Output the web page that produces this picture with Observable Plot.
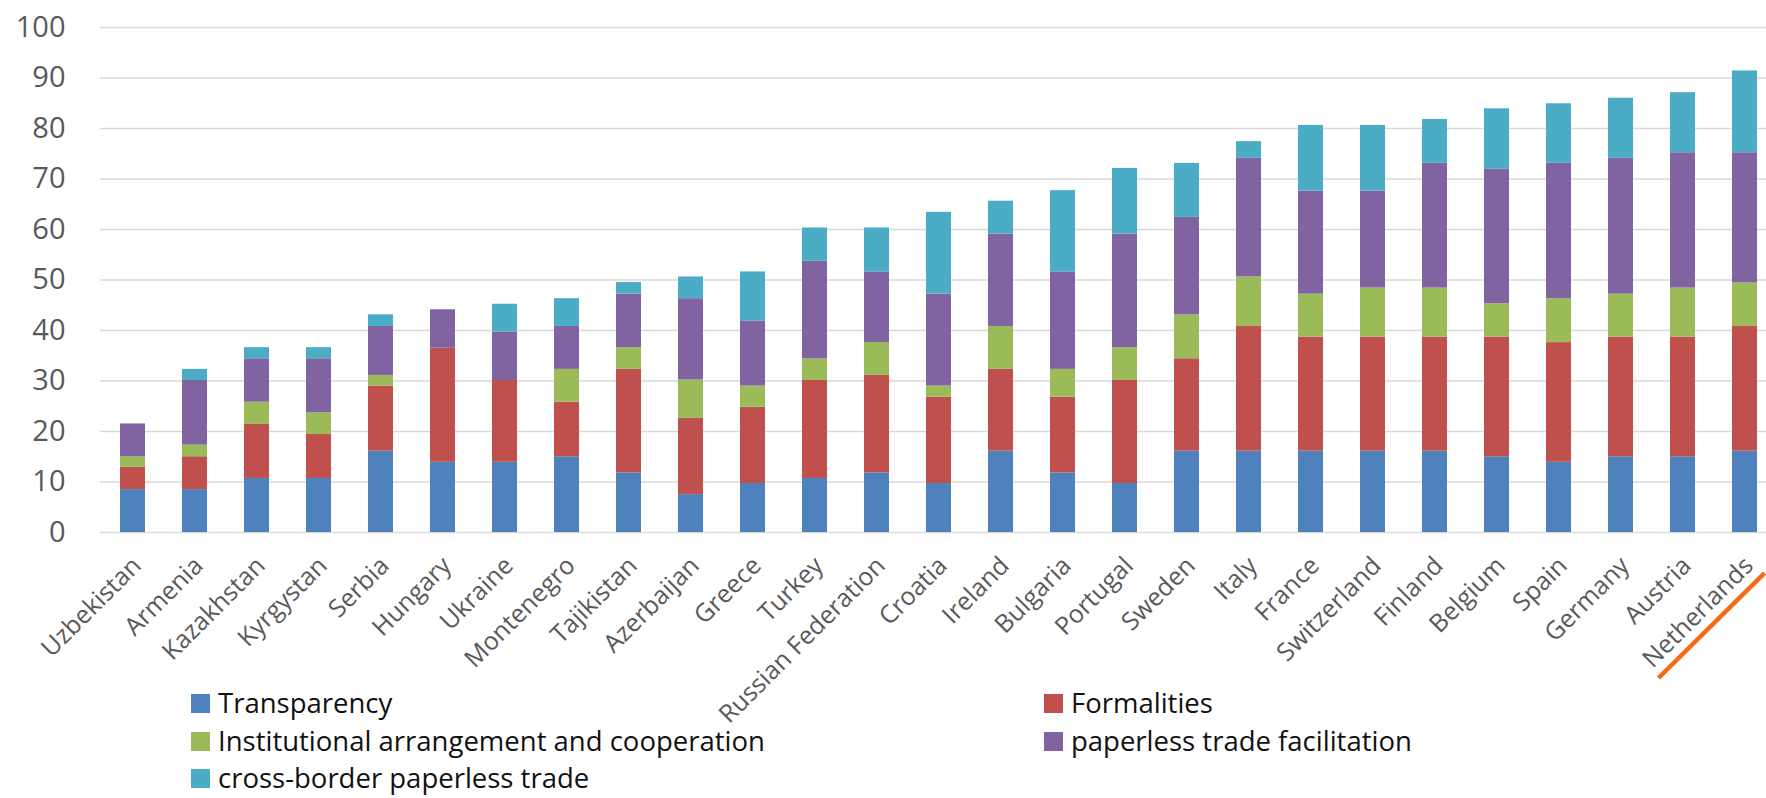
<!DOCTYPE html>
<html>
<head>
<meta charset="utf-8">
<script src="https://cdn.jsdelivr.net/npm/d3@7"></script>
<script src="https://cdn.jsdelivr.net/npm/@observablehq/plot@0.6"></script>
<style>
  html, body { margin: 0; padding: 0; background: #fff; }
  #wrap { position: relative; width: 1766px; height: 798px; overflow: hidden; font-family: "Open Sans", sans-serif; }
  .leg { position: absolute; display: flex; align-items: center; font-size: 27.5px; color: #111; white-space: nowrap; line-height: 1; }
  .leg .sw { width: 19px; height: 19px; margin-right: 8px; flex: none; }
</style>
</head>
<body>
<div id="wrap"></div>
<script>
const countries = ["Uzbekistan","Armenia","Kazakhstan","Kyrgystan","Serbia","Hungary","Ukraine","Montenegro","Tajikistan","Azerbaijan","Greece","Turkey","Russian Federation","Croatia","Ireland","Bulgaria","Portugal","Sweden","Italy","France","Switzerland","Finland","Belgium","Spain","Germany","Austria","Netherlands"];
const seriesNames = ["Transparency","Formalities","Institutional arrangement and cooperation","paperless trade facilitation","cross-border paperless trade"];
const seriesColors = ["#4F81BD","#C0504D","#9BBB59","#8064A2","#4BACC6"];

const transparency = [8.5,8.5,10.7,10.7,16.1,13.9,13.9,15.0,11.8,7.5,9.7,10.7,11.8,9.7,16.1,11.8,9.7,16.1,16.1,16.1,16.1,16.1,15.0,13.9,15.0,15.0,16.1];
const formalities  = [4.4,6.5,10.7,8.7,12.9,22.6,16.2,10.8,20.5,15.1,15.1,19.4,19.3,17.1,16.2,15.0,20.4,18.3,24.7,22.6,22.6,22.6,23.7,23.7,23.7,23.7,24.7];
const institutional= [2.1,2.3,4.4,4.3,2.1,0,0,6.5,4.3,7.6,4.2,4.3,6.5,2.2,8.5,5.5,6.5,8.7,9.8,8.5,9.7,9.7,6.6,8.7,8.5,9.7,8.6];
const paperless    = [6.5,12.8,8.6,10.7,9.7,7.6,9.6,8.5,10.6,16.1,12.9,19.3,14.0,18.2,18.3,19.3,22.5,19.3,23.5,20.4,19.2,24.7,26.7,26.8,26.9,26.8,25.8];
const crossBorder  = [0,2.2,2.2,2.2,2.3,0,5.5,5.5,2.3,4.3,9.7,6.6,8.7,16.2,6.5,16.1,13.0,10.7,3.3,13.0,13.0,8.7,11.9,11.8,11.9,11.9,16.2];
const yTicks = [0,10,20,30,40,50,60,70,80,90,100];

const seriesValues = [transparency, formalities, institutional, paperless, crossBorder];
const rows = [];
countries.forEach((c, i) => {
  seriesNames.forEach((s, j) => rows.push({country: c, series: s, value: seriesValues[j][i]}));
});

const W = 1766, H = 798;
const plot = Plot.plot({
  width: W,
  height: H,
  marginTop: 27,
  marginBottom: 266,
  marginLeft: 100,
  marginRight: 0,
  style: {fontFamily: "Open Sans, sans-serif", background: "#fff"},
  x: {domain: countries, range: [100, 1776], paddingInner: 0.6, paddingOuter: 0.3, label: null},
  y: {domain: [0, 100], label: null},
  color: {domain: seriesNames, range: seriesColors},
  marks: [
    Plot.gridY(yTicks, {stroke: "#d9d9d9", strokeOpacity: 1, strokeWidth: 1.5}),
    Plot.barY(rows, {x: "country", y: "value", fill: "series", order: null}),
    Plot.axisY(yTicks, {tickSize: 0, tickPadding: 35, fontSize: 29, fill: "#595959", label: null}),
    Plot.axisX({tickSize: 0, tickRotate: -45, tickPadding: 29, dx: 4, fontSize: 25, fill: "#595959", label: null})
  ]
});

const wrap = document.getElementById("wrap");
wrap.appendChild(plot);

// orange highlight line under the last country label
const xs = plot.scale("x"), ys = plot.scale("y");
const cx = xs.apply("Netherlands") + xs.bandwidth / 2;
const y0 = ys.apply(0);
const ns = "http://www.w3.org/2000/svg";
const ln = document.createElementNS(ns, "line");
ln.setAttribute("x1", cx - 86); ln.setAttribute("y1", y0 + 146);
ln.setAttribute("x2", cx + 20); ln.setAttribute("y2", y0 + 41);
ln.setAttribute("stroke", "#F56A12"); ln.setAttribute("stroke-width", 4.5);
plot.appendChild(ln);

// legend
const legPos = [[191, 703], [1044, 703], [191, 741], [1044, 741], [191, 778]];
seriesNames.forEach((s, i) => {
  const d = document.createElement("div");
  d.className = "leg";
  d.style.left = legPos[i][0] + "px";
  d.style.top = (legPos[i][1] - 17) + "px";
  d.style.height = "34px";
  const sw = document.createElement("span");
  sw.className = "sw";
  sw.style.background = seriesColors[i];
  d.appendChild(sw);
  d.appendChild(document.createTextNode(s));
  wrap.appendChild(d);
});
</script>
</body>
</html>
